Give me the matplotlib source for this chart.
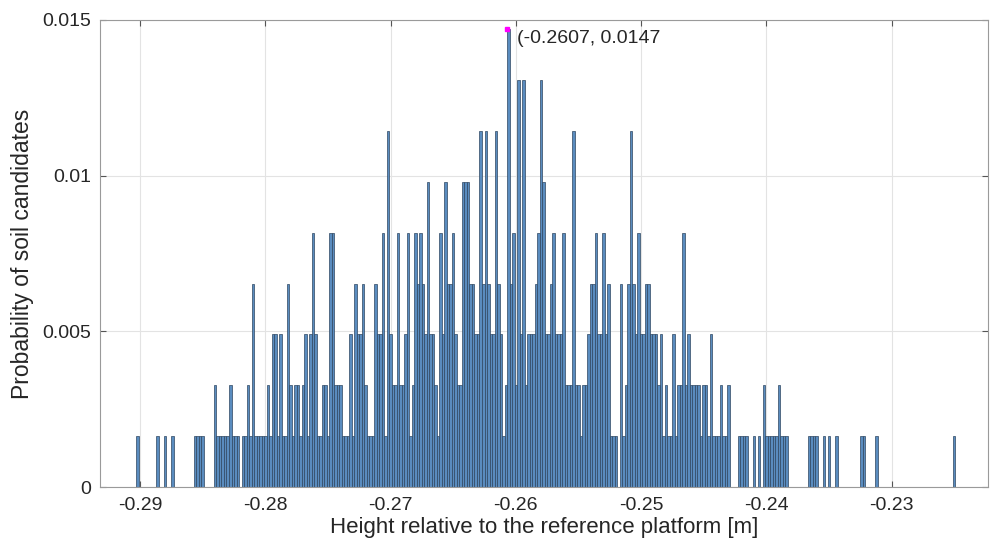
import numpy as np
import matplotlib
matplotlib.use("Agg")
import matplotlib.pyplot as plt

plt.rcParams['font.family'] = ['Liberation Sans', 'DejaVu Sans']

# Histogram data (counts per bin)
bin_start = -0.2903
bin_width = 0.0002
n_total = 612  # number of soil candidates (peak 9/612 = 0.0147)

counts = [
    # bins 0-40
    1, 0, 0, 0, 0, 0, 0, 0, 1, 0, 0, 1, 0, 0, 1, 0, 0, 0, 0, 0,
    0, 0, 0, 1, 1, 1, 1, 0, 0, 0, 0, 2, 1, 1, 1, 1, 1, 2, 1, 1,
    1,
    # bins 41-81
    0, 1, 1, 2, 1, 4, 1, 1, 1, 1, 1, 2, 1, 3, 3, 1, 3, 1, 1, 4,
    2, 1, 2, 2, 1, 2, 3, 1, 3, 5, 3, 1, 1, 2, 2, 1, 5, 5, 2, 2,
    2,
    # bins 82-124
    1, 1, 1, 3, 1, 4, 3, 3, 4, 2, 1, 1, 1, 4, 3, 3, 5, 1, 7, 3,
    2, 2, 5, 2, 2, 3, 5, 1, 2, 5, 4, 5, 4, 3, 6, 3, 3, 2, 1, 5,
    3, 6, 4,
    # bins 125-165
    4, 5, 3, 2, 2, 6, 6, 6, 4, 4, 3, 3, 7, 4, 7, 4, 3, 3, 7, 4,
    3, 1, 2, 9, 4, 5, 2, 8, 3, 8, 2, 3, 3, 3, 4, 5, 8, 6, 3, 3,
    4,
    # bins 166-206
    5, 3, 3, 3, 5, 2, 2, 2, 7, 2, 2, 1, 2, 2, 3, 4, 4, 5, 3, 3,
    5, 3, 4, 1, 1, 1, 0, 4, 1, 2, 4, 7, 4, 3, 5, 3, 3, 4, 4, 3,
    3,
    # bins 207-249
    3, 2, 3, 1, 2, 1, 1, 3, 1, 2, 2, 5, 2, 3, 2, 2, 2, 2, 1, 2,
    2, 1, 3, 1, 1, 1, 2, 1, 1, 2, 0, 0, 0, 1, 1, 1, 1, 0, 0, 1,
    0, 1,
    # bins 250-327
    0, 2, 1, 1, 1, 1, 1, 2, 1, 1, 1, 0, 0, 0, 0, 0, 0, 0, 0, 1,
    1, 1, 1, 0, 0, 1, 0, 1, 0, 0, 1, 0, 0, 0, 0, 0, 0, 0, 0, 0,
    1, 1, 0, 0, 0, 0, 1, 0, 0, 0, 0, 0, 0, 0, 0, 0, 0, 0, 0, 0,
    0, 0, 0, 0, 0, 0, 0, 0, 0, 0, 0, 0, 0, 0, 0, 0, 0, 1,
]

x_ticks = [-0.29, -0.28, -0.27, -0.26, -0.25, -0.24, -0.23]
x_tick_labels = ['-0.29', '-0.28', '-0.27', '-0.26', '-0.25', '-0.24', '-0.23']
y_ticks = [0, 0.005, 0.01, 0.015]
y_tick_labels = ['0', '0.005', '0.01', '0.015']

tip_x = -0.2607
tip_y = 0.0147
tip_text = '(-0.2607, 0.0147'

counts = np.array(counts, dtype=float)
probs = counts / n_total
edges = bin_start + bin_width * np.arange(len(counts) + 1)
centers = 0.5 * (edges[:-1] + edges[1:])

fig = plt.figure(figsize=(9.92, 5.47), dpi=100)
ax = fig.add_axes([100 / 992, 60 / 547, 888 / 992, 467 / 547])

mask = counts > 0
ax.bar(centers[mask], probs[mask], width=bin_width, align='center',
       facecolor='#5a8cbf', edgecolor='#2e4660', linewidth=0.5,
       zorder=2)

ax.set_xlim(-0.2932, -0.2223)
ax.set_ylim(0, 0.015)
ax.set_xticks(x_ticks)
ax.set_xticklabels(x_tick_labels)
ax.set_yticks(y_ticks)
ax.set_yticklabels(y_tick_labels)

ax.grid(True, color='#e3e3e3', linewidth=0.8, zorder=0)
ax.set_axisbelow(True)
for s in ax.spines.values():
    s.set_color('#9a9a9a')
    s.set_linewidth(0.8)
ax.tick_params(direction='in', length=4, width=0.8, color='#555555',
               top=True, right=True, labelsize=14, labelcolor='#262626')
ax.tick_params(axis='x', pad=7.5)
ax.tick_params(axis='y', pad=6.5)

ax.set_xlabel('Height relative to the reference platform [m]', fontsize=16,
              color='#262626')
ax.set_ylabel('Probability of soil candidates', fontsize=16.5,
              color='#262626')
ax.xaxis.label.set_va('center')
ax.yaxis.label.set_va('center')
ax.xaxis.set_label_coords(0.5, (487 - 528) / 467)
ax.yaxis.set_label_coords((23 - 100) / 888, 0.5)

ax.plot([tip_x], [tip_y], 's', color='magenta', markersize=3, zorder=4,
        clip_on=False)
ax.annotate(tip_text, xy=(tip_x, tip_y), xytext=(7.5, -6.5),
            textcoords='offset points', ha='left', va='center', fontsize=14,
            color='#262626', zorder=5)

fig.savefig('out.png', dpi=100)
